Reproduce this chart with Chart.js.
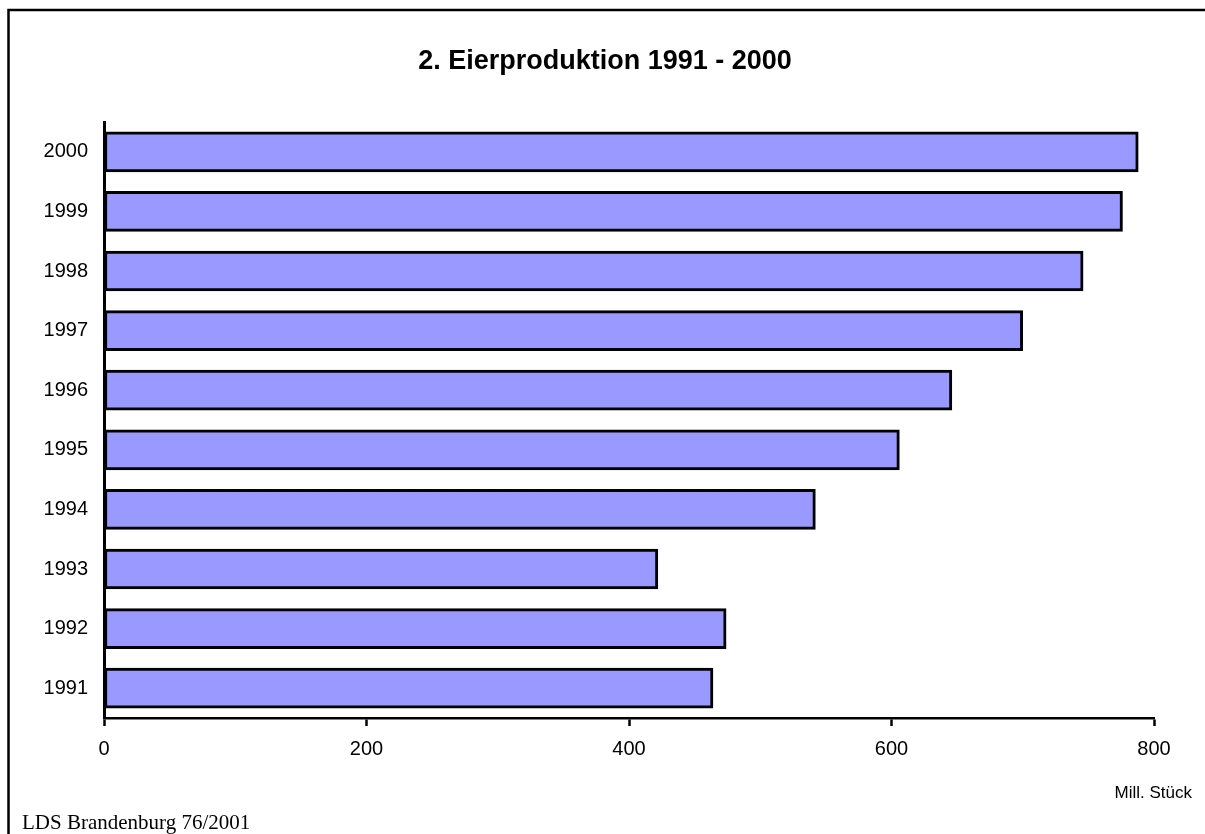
<!DOCTYPE html>
<html>
<head>
<meta charset="utf-8">
<script src="https://cdn.jsdelivr.net/npm/chart.js@4"></script>
<style>
html,body{margin:0;padding:0;background:#fff;}
#wrap{position:relative;width:1205px;height:834px;}
canvas{display:block;}
</style>
</head>
<body>
<div id="wrap"><canvas id="c" width="1205" height="834"></canvas></div>
<script>
const years = ['1991','1992','1993','1994','1995','1996','1997','1998','1999','2000'];
const eggs = [464, 474, 422, 542, 606, 646, 700, 746, 776, 788];
const xTicks = [0, 200, 400, 600, 800];
const titleText = '2. Eierproduktion 1991 - 2000';
const unitText = 'Mill. Stück';
const sourceText = 'LDS Brandenburg 76/2001';

const decor = {
  id: 'decor',
  beforeDraw(chart) {
    const ctx = chart.ctx;
    ctx.save();
    ctx.fillStyle = '#fff';
    ctx.fillRect(0, 0, chart.width, chart.height);
    ctx.strokeStyle = '#000';
    ctx.lineWidth = 2.5;
    ctx.strokeRect(8.5, 10, 1300, 1000);
    ctx.restore();
  },
  afterDraw(chart) {
    const ctx = chart.ctx;
    ctx.save();
    ctx.fillStyle = '#000';
    ctx.textBaseline = 'middle';
    ctx.textAlign = 'center';
    ctx.font = 'bold 27px "Liberation Sans", Arial, sans-serif';
    ctx.fillText(titleText, 605, 62);
    ctx.textAlign = 'right';
    ctx.font = '17px "Liberation Sans", Arial, sans-serif';
    ctx.fillText(unitText, 1192, 793);
    ctx.textAlign = 'left';
    ctx.textBaseline = 'alphabetic';
    ctx.font = '21px "Liberation Serif", "Times New Roman", serif';
    ctx.fillText(sourceText, 22, 829);
    ctx.restore();
  }
};

new Chart(document.getElementById('c'), {
  type: 'bar',
  data: {
    labels: years,
    datasets: [{
      data: eggs,
      backgroundColor: '#9999FF',
      borderColor: '#000',
      borderWidth: 3,
      borderSkipped: false,
      barThickness: 40
    }]
  },
  options: {
    indexAxis: 'y',
    responsive: false,
    animation: false,
    layout: { padding: { top: 122, right: 51, left: 0, bottom: 0 } },
    plugins: { legend: { display: false }, tooltip: { enabled: false }, title: { display: false } },
    scales: {
      x: {
        min: 0, max: 800,
        afterBuildTicks(s) { s.ticks = xTicks.map(v => ({ value: v })); },
        afterFit(s) { s.height = 834 - 718; },
        grid: { drawOnChartArea: false, drawTicks: true, tickLength: 8, tickColor: '#000', tickWidth: 2.5 },
        border: { display: true, color: '#000', width: 2.5 },
        ticks: { color: '#000', padding: 11, maxRotation: 0, font: { family: '"Liberation Sans", Arial, sans-serif', size: 20 } }
      },
      y: {
        reverse: true,
        afterFit(s) { s.width = 104; },
        grid: { display: false, drawTicks: false, tickLength: 0 },
        border: { display: true, color: '#000', width: 3 },
        ticks: { color: '#000', padding: 16, font: { family: '"Liberation Sans", Arial, sans-serif', size: 20 } }
      }
    }
  },
  plugins: [decor]
});
</script>
</body>
</html>
